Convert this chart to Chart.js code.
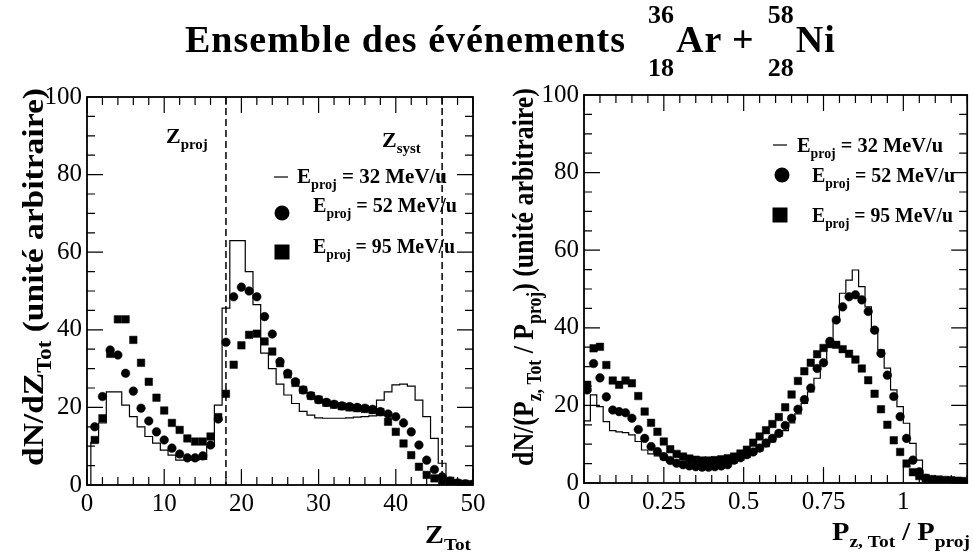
<!DOCTYPE html>
<html>
<head>
<meta charset="utf-8">
<script src="https://cdn.jsdelivr.net/npm/chart.js@4.4.1/dist/chart.umd.min.js"></script>
<style>
  html, body { margin: 0; padding: 0; background: #fff; }
  body { width: 973px; height: 557px; position: relative; overflow: hidden; }
  canvas { position: absolute; top: 0; }
  #left { left: 0; }
  #right { left: 490px; }
  #title { position: absolute; left: 185px; top: 20px; white-space: nowrap; color: #000; letter-spacing: 1px;
           font: bold 38px/38px "Liberation Serif", "Times New Roman", serif; }
  .nuc { position: relative; display: inline-block; width: 26px; height: 10px; margin-left: 22px; margin-right: 2px; letter-spacing: 0; }
  .nuc.second { margin-left: 13px; }
  .nuc span { position: absolute; right: 0; font-size: 26px; line-height: 26px; }
  .nuc .t { top: -40px; }
  .nuc .b { top: 13px; }
</style>
</head>
<body>
<canvas id="left" width="490" height="557"></canvas>
<canvas id="right" width="483" height="557"></canvas>
<div id="title">Ensemble des événements<span class="nuc"><span class="t">36</span><span class="b">18</span></span>Ar +<span class="nuc second"><span class="t">58</span><span class="b">28</span></span>Ni</div>
<script>
// ---- left panel : Z_Tot ----
var zTot = [1, 2, 3, 4, 5, 6, 7, 8, 9, 10, 11, 12, 13, 14, 15, 16, 17, 18, 19, 20,
            21, 22, 23, 24, 25, 26, 27, 28, 29, 30, 31, 32, 33, 34, 35, 36, 37, 38, 39, 40,
            41, 42, 43, 44, 45, 46, 47, 48, 49, 50];
var zHist32 = [11, 16, 24, 24, 20.6, 17.6, 15, 12.5, 10.8, 9, 7.7, 6.4, 6.4, 6.4, 6.6, 10, 20.6, 45.6, 63, 63,
               55, 46.5, 34, 30, 26, 23.2, 21, 19, 18, 17.3, 17.2, 17.2, 17.2, 17.3, 17.5, 17.6, 17.8, 21.9, 24, 25.8,
               26, 25.5, 21.9, 17.6, 12, 5.6, 2, 0.8, 0.5, 0.3];
var zCirc52 = [15, 22.8, 34.8, 33.5, 28.8, 24.2, 19.8, 16.5, 13.7, 11.6, 9.5, 8, 7, 7, 7.5, 10.3, 17, 36.8, 48.5, 51,
               50, 48.5, 43.4, 38.9, 31.8, 28.8, 26.6, 24.5, 23, 22, 21.3, 20.8, 20.4, 20.2, 20, 19.8, 19.5, 18.9, 18.3, 17.6,
               16, 13.7, 10.3, 6.4, 4, 2.1, 1, 0.5, 0.3, 0.2];
var zSq95 = [11.6, 17.2, 33.8, 42.7, 42.7, 37.4, 31.5, 26.6, 22.5, 19.2, 16, 14.2, 12, 11.2, 11.2, 12.5, 17.5, 23.5, 31, 36,
             38.7, 39, 37, 34.4, 31.4, 28.5, 26.3, 24.5, 23, 22, 21.2, 20.7, 20.3, 20, 19.8, 19.6, 19.3, 18.8, 16.3, 13.7,
             10.7, 7.7, 4.7, 2.6, 1.7, 1.1, 0.8, 0.5, 0.3, 0.2];
var zCuts = [18, 46];
var zTicks = [0, 10, 20, 30, 40, 50];

// ---- right panel : Pz,Tot / Pproj ----
var pTot = [0.01, 0.03, 0.05, 0.07, 0.09, 0.11, 0.13, 0.15, 0.17, 0.19, 0.21, 0.23, 0.25, 0.27, 0.29,
            0.31, 0.33, 0.35, 0.37, 0.39, 0.41, 0.43, 0.45, 0.47, 0.49, 0.51, 0.53, 0.55, 0.57, 0.59,
            0.61, 0.63, 0.65, 0.67, 0.69, 0.71, 0.73, 0.75, 0.77, 0.79, 0.81, 0.83, 0.85, 0.87, 0.89,
            0.91, 0.93, 0.95, 0.97, 0.99, 1.01, 1.03, 1.05, 1.07, 1.09, 1.11, 1.13, 1.15, 1.17, 1.19];
var pHist32 = [16, 22.7, 19.7, 15.8, 13.5, 13.2, 13, 12.4, 10.7, 8.5, 7.5, 7, 6, 5.6, 5.2,
               4.8, 4.5, 4.3, 4.2, 4.2, 4.3, 4.5, 4.8, 5.2, 5.8, 6.6, 7.4, 8.3, 9.4, 10.6,
               12, 13.5, 15.5, 17.8, 20.5, 23.5, 27, 30.5, 35, 41.6, 48.9, 52.3, 54.9, 50.6, 45.4,
               39.9, 34.3, 29.6, 24, 19.7, 15.4, 10.2, 5.9, 1.6, 0.8, 0.5, 0.4, 0.3, 0.3, 0.2];
var pCirc52 = [24, 30.8, 27.1, 22.2, 18.8, 18.4, 18.1, 16.7, 13.8, 11.5, 9.4, 8.1, 6.8, 5.8, 5.1,
               4.7, 4.4, 4.2, 4.1, 4.1, 4.2, 4.4, 4.7, 5.9, 6.5, 7.3, 8, 9, 10.3, 11.5,
               12.8, 14.8, 16.7, 19, 21.5, 24.5, 29.5, 31, 36.5, 42, 45.4, 48, 48.5, 47.2, 44.2,
               39.4, 33.4, 27.8, 22.3, 17.1, 11.5, 5.9, 2.9, 1.2, 0.6, 0.4, 0.3, 0.2, 0.2, 0.1];
var pSq95 = [25.3, 34.7, 35.1, 30.4, 26.4, 25.3, 26.4, 25.7, 22.4, 18.4, 15.5, 13.2, 10.7, 8.7, 7.5,
             6.8, 6.3, 6, 5.8, 5.8, 5.9, 6.1, 6.4, 6.8, 7.6, 8.6, 10.4, 12, 13.6, 15.2,
             17, 19.5, 22.8, 26.3, 28.8, 31, 33.2, 34.8, 35.8, 35.6, 34.5, 33.3, 31.8, 29.5, 26.5,
             23, 19, 15, 11, 8, 5, 2.8, 1.8, 1.3, 1, 0.9, 0.8, 0.7, 0.6, 0.5];
var pTicks = [0, 0.25, 0.5, 0.75, 1];

var yTicks = [0, 20, 40, 60, 80, 100];
var FONT = '"Liberation Serif", "Times New Roman", serif';

function points(xs, ys) {
    return xs.map(function (x, i) { return { x: x, y: ys[i] }; });
}
// histogram outline: one point per lower bin edge, closed at both ends
function histPoints(xs, ys, half) {
    var pts = [{ x: xs[0] - half, y: 0 }];
    xs.forEach(function (x, i) { pts.push({ x: x - half, y: ys[i] }); });
    pts.push({ x: xs[xs.length - 1] + half, y: ys[ys.length - 1] });
    return pts;
}

function drawRich(ctx, parts, x, y, size, width) {
    ctx.save();
    var natural = 0;
    parts.forEach(function (p) {
        ctx.font = 'bold ' + (p[1] ? size * 0.68 : size) + 'px ' + FONT;
        natural += ctx.measureText(p[0]).width;
    });
    var k = width ? width / natural : 1;
    ctx.translate(x, y);
    ctx.scale(k, 1);
    ctx.textAlign = 'left';
    ctx.textBaseline = 'alphabetic';
    ctx.fillStyle = '#000';
    var cx = 0;
    parts.forEach(function (p) {
        ctx.font = 'bold ' + (p[1] ? size * 0.68 : size) + 'px ' + FONT;
        ctx.fillText(p[0], cx, p[1] ? size * 0.27 : 0);
        cx += ctx.measureText(p[0]).width;
    });
    ctx.restore();
}

// frame with inward ticks on all four sides, cut lines, texts, legend
var deco = {
    id: 'deco',
    afterDatasetsDraw: function (chart, args, o) {
        var ctx = chart.ctx, a = chart.chartArea, xs = chart.scales.x, ys = chart.scales.y;
        ctx.save();
        ctx.strokeStyle = '#000';
        ctx.fillStyle = '#000';

        // dashed cut lines
        ctx.lineWidth = 1.5;
        ctx.setLineDash([7, 4]);
        (o.cuts || []).forEach(function (c) {
            var px = xs.getPixelForValue(c);
            ctx.beginPath(); ctx.moveTo(px, a.top); ctx.lineTo(px, a.bottom); ctx.stroke();
        });
        ctx.setLineDash([]);

        // ticks
        ctx.lineWidth = 1.2;
        ctx.beginPath();
        for (var k = 0; k <= o.xN; k++) {
            var px = xs.getPixelForValue(k * o.xStep);
            var L = k % o.xMajorEvery === 0 ? 16 : 8;
            ctx.moveTo(px, a.bottom); ctx.lineTo(px, a.bottom - L);
            ctx.moveTo(px, a.top); ctx.lineTo(px, a.top + L);
        }
        for (var j = 0; j <= 20; j++) {
            var py = ys.getPixelForValue(j * 5);
            var M = j % 4 === 0 ? 16 : 8;
            ctx.moveTo(a.left, py); ctx.lineTo(a.left + M, py);
            ctx.moveTo(a.right, py); ctx.lineTo(a.right - M, py);
        }
        ctx.stroke();

        // frame
        ctx.lineWidth = 1.8;
        ctx.strokeRect(a.left, a.top, a.right - a.left, a.bottom - a.top);

        // axis titles
        ctx.save();
        ctx.translate(o.yTitle.x, o.yTitle.cy);
        ctx.rotate(-Math.PI / 2);
        drawRich(ctx, o.yTitle.parts, -o.yTitle.width / 2, 0, o.yTitle.size, o.yTitle.width);
        ctx.restore();
        drawRich(ctx, o.xTitle.parts, o.xTitle.x, o.xTitle.y, o.xTitle.size, o.xTitle.width);

        (o.labels || []).forEach(function (l) { drawRich(ctx, l.parts, l.x, l.y, l.size); });

        // legend
        o.legend.forEach(function (it) {
            if (it.kind === 'line') {
                ctx.lineWidth = 1.2;
                ctx.beginPath(); ctx.moveTo(it.mx - 7, it.my); ctx.lineTo(it.mx + 7, it.my); ctx.stroke();
            } else if (it.kind === 'circle') {
                ctx.beginPath(); ctx.arc(it.mx, it.my, 7.5, 0, Math.PI * 2); ctx.fill();
            } else {
                ctx.fillRect(it.mx - 7.5, it.my - 7.5, 15, 15);
            }
            drawRich(ctx, it.parts, it.tx, it.ty, 21, it.width);
        });
        ctx.restore();
    }
};

function makeChart(id, xs, hist, circ, sq, half, cfg) {
    return new Chart(document.getElementById(id).getContext('2d'), {
        type: 'scatter',
        data: {
            datasets: [
                { label: 'E = 32 MeV/u', data: histPoints(xs, hist, half), showLine: true, stepped: 'before',
                  borderColor: '#000', borderWidth: 1.2, pointRadius: 0, order: 3 },
                { label: 'E = 52 MeV/u', data: points(xs, circ), pointStyle: 'circle', pointRadius: 4.3,
                  backgroundColor: '#000', borderColor: '#000', borderWidth: 0.5, order: 2 },
                { label: 'E = 95 MeV/u', data: points(xs, sq), pointStyle: 'rect', pointRadius: 5.3,
                  backgroundColor: '#000', borderColor: '#000', borderWidth: 0.5, order: 1 }
            ]
        },
        options: {
            responsive: false,
            animation: false,
            layout: { padding: { top: cfg.top, right: cfg.right, left: 0, bottom: 0 } },
            plugins: { legend: { display: false }, tooltip: { enabled: false }, deco: cfg.deco },
            scales: {
                x: {
                    type: 'linear', min: cfg.xMin, max: cfg.xMax,
                    grid: { display: false, drawTicks: false }, border: { display: false },
                    afterBuildTicks: function (s) { s.ticks = cfg.xTicks.map(function (v) { return { value: v }; }); },
                    afterFit: function (s) { s.height = cfg.xAxisH; },
                    ticks: { color: '#000', font: { family: FONT, size: 25 }, padding: 4, maxRotation: 0, autoSkip: false,
                             callback: function (v) { return String(v); } }
                },
                y: {
                    min: 0, max: 100,
                    grid: { display: false, drawTicks: false }, border: { display: false },
                    afterBuildTicks: function (s) { s.ticks = yTicks.map(function (v) { return { value: v }; }); },
                    afterFit: function (s) { s.width = cfg.yAxisW; },
                    ticks: { color: '#000', font: { family: FONT, size: 25 }, padding: 5,
                             callback: function (v) { return String(v); } }
                }
            }
        },
        plugins: [deco]
    });
}

function legendItems(rows) {
    var kinds = ['line', 'circle', 'square'];
    var energies = ['32', '52', '95'];
    return rows.map(function (r, i) {
        return { kind: kinds[i], mx: r[0], my: r[1], tx: r[2], ty: r[3], width: r[4],
                 parts: [['E'], ['proj', 1], [' = ' + energies[i] + ' MeV/u']] };
    });
}

makeChart('left', zTot, zHist32, zCirc52, zSq95, 0.5, {
    top: 97, right: 17, xAxisH: 72, yAxisW: 87, xMin: 0, xMax: 50, xTicks: zTicks,
    deco: {
        cuts: zCuts, xN: 25, xStep: 2, xMajorEvery: 5,
        yTitle: { x: 43, cy: 277, size: 30, width: 378, parts: [['dN/dZ'], ['Tot', 1], [' (unité arbitraire)']] },
        xTitle: { x: 425, y: 543, size: 25, width: 46, parts: [['Z'], ['Tot', 1]] },
        labels: [
            { x: 166, y: 143, size: 22, parts: [['Z'], ['proj', 1]] },
            { x: 382, y: 147, size: 22, parts: [['Z'], ['syst', 1]] }
        ],
        legend: legendItems([[281, 177, 297, 183, 150], [282, 213, 313, 212, 144], [282, 252, 313, 253, 142]])
    }
});

makeChart('right', pTot, pHist32, pCirc52, pSq95, 0.01, {
    top: 95, right: 3, xAxisH: 74, yAxisW: 94, xMin: 0, xMax: 1.2, xTicks: pTicks,
    deco: {
        cuts: [], xN: 24, xStep: 0.05, xMajorEvery: 5,
        yTitle: { x: 43, cy: 277, size: 30, width: 378,
                  parts: [['dN/(P'], ['z, Tot', 1], [' / P'], ['proj', 1], [') (unité arbitraire)']] },
        xTitle: { x: 342, y: 540, size: 25, width: 138, parts: [['P'], ['z, Tot', 1], [' / P'], ['proj', 1]] },
        labels: [],
        legend: legendItems([[290, 145, 307, 152, 146], [292, 175, 322, 182, 143], [290, 215, 322, 222, 141]])
    }
});
</script>
</body>
</html>
